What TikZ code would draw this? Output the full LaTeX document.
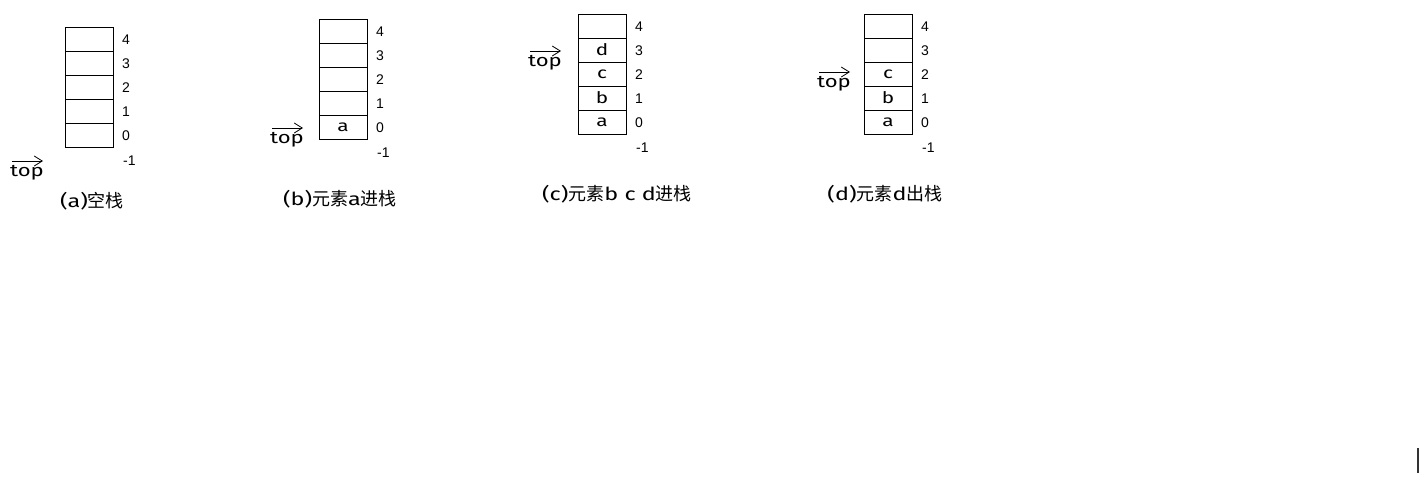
\documentclass[tikz,border=0pt]{standalone}
\usepackage{fontspec}
\setmainfont{Liberation Sans}
\newfontfamily\cjkfont{Noto Sans CJK SC}
\newfontfamily\hand[FakeStretch=1.3]{Fira Sans}
\usetikzlibrary{arrows.meta}
\tikzset{
  cell/.style={draw=black, line width=0.9pt, minimum width=48pt, minimum height=24pt, inner sep=0pt, font=\hand\fontsize{16}{16}\selectfont},
  idx/.style={anchor=west, inner sep=0pt, font=\fontsize{14}{14}\selectfont, text=black},
  toplbl/.style={inner sep=0pt, font=\hand\fontsize{17}{17}\selectfont},
  toparrow/.style={-{Straight Barb[length=8pt,width=10pt]}, line width=0.8pt},
  captxt/.style={inner sep=0pt, font=\cjkfont\fontsize{18}{18}\selectfont}
}
\newcommand{\lt}[1]{{\hand\fontsize{18}{18}\selectfont #1}}
\begin{document}
\begin{tikzpicture}[x=1pt,y=-1pt]
\useasboundingbox (0,0) rectangle (1428,482);
% stack (a)
\foreach \i in {0,...,4} {
  \node[cell] (a\i) at (89,{135-24*\i}) {};
  \node[idx] (ai\i) at (122,{136-24*\i}) {\i};
}
\node[idx] (aim) at (123,161) {-1};
\node[toplbl] (ta) at (27,173) {top};
\draw[toparrow] ([xshift=-15pt,yshift=12pt]ta.center) -- ([xshift=16pt,yshift=12pt]ta.center);
\node[captxt] (ca) at (92,201) {\lt{(a)}空栈};
% stack (b)
\foreach \i in {0,...,4} {
  \node[cell] (b\i) at (343,{127-24*\i}) {};
  \node[idx] (bi\i) at (376,{128-24*\i}) {\i};
}
\node at (b0) [font=\hand\fontsize{16}{16}\selectfont] {a};
\node[idx] (bim) at (377,153) {-1};
\node[toplbl] (tb) at (287,140) {top};
\draw[toparrow] ([xshift=-15pt,yshift=12pt]tb.center) -- ([xshift=16pt,yshift=12pt]tb.center);
\node[captxt] (cb) at (340,199) {\lt{(b)}元素\lt{a}进栈};
% stack (c)
\foreach \i/\t in {0/a,1/b,2/c,3/d,4/} {
  \node[cell] (c\i) at (602,{122-24*\i}) {\t};
  \node[idx] (ci\i) at (635,{123-24*\i}) {\i};
}
\node[idx] (cim) at (636,148) {-1};
\node[toplbl] (tc) at (545,63) {top};
\draw[toparrow] ([xshift=-15pt,yshift=12pt]tc.center) -- ([xshift=16pt,yshift=12pt]tc.center);
\node[captxt] (cc) at (617,194) {\lt{(c)}元素\lt{b\ c\ d}进栈};
% stack (d)
\foreach \i/\t in {0/a,1/b,2/c,3/,4/} {
  \node[cell] (d\i) at (888,{122-24*\i}) {\t};
  \node[idx] (di\i) at (921,{123-24*\i}) {\i};
}
\node[idx] (dim) at (922,148) {-1};
\node[toplbl] (td) at (834,84) {top};
\draw[toparrow] ([xshift=-15pt,yshift=12pt]td.center) -- ([xshift=16pt,yshift=12pt]td.center);
\node[captxt] (cd) at (885,194) {\lt{(d)}元素\lt{d}出栈};
% cursor mark
\draw[line width=1.2pt, black!80] (1418,448) -- (1418,473);
\end{tikzpicture}
\end{document}
